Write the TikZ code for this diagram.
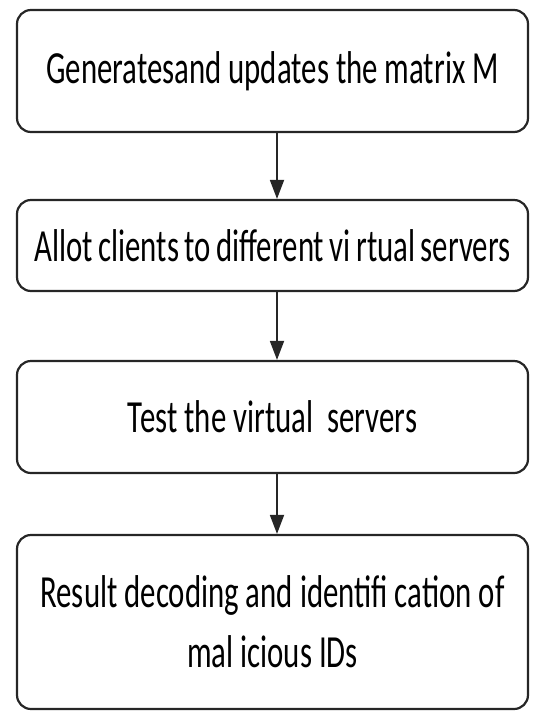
\documentclass[tikz,border=0pt]{standalone}
\usepackage{fontspec}
\setmainfont[FakeStretch=0.67]{Carlito}
\usetikzlibrary{arrows.meta}
\begin{document}
\begin{tikzpicture}[x=1pt,y=1pt,
  stepbox/.style={draw=black!85,line width=2.2pt,rounded corners=14pt,minimum width=511pt,align=center,font=\fontsize{46}{60}\selectfont,inner sep=0pt},
  flow/.style={draw=black!85,line width=1.8pt,-{Triangle[width=14pt,length=19pt]}}]
\useasboundingbox (0,0) rectangle (534,-713);
\node[stepbox,minimum height=122pt] (b1) at (272.5,-71) {Generatesand updates the matrix M};
\node[stepbox,minimum height=91pt] (b2) at (272.5,-245.5) {\spaceskip=0.12em plus 0.05em Allot clients to different vi rtual servers};
\node[stepbox,minimum height=112pt] (b3) at (272.5,-417) {Test the virtual \ servers};
\node[stepbox,minimum height=174pt] (b4) at (272.5,-622) {Result decoding and identifi cation of\\ mal icious IDs};
\draw[flow] ([xshift=4.5pt]b1.south) -- ([xshift=4.5pt]b2.north);
\draw[flow] ([xshift=4.5pt]b2.south) -- ([xshift=4.5pt]b3.north);
\draw[flow] ([xshift=4.5pt]b3.south) -- ([xshift=4.5pt]b4.north);
\end{tikzpicture}
\end{document}
